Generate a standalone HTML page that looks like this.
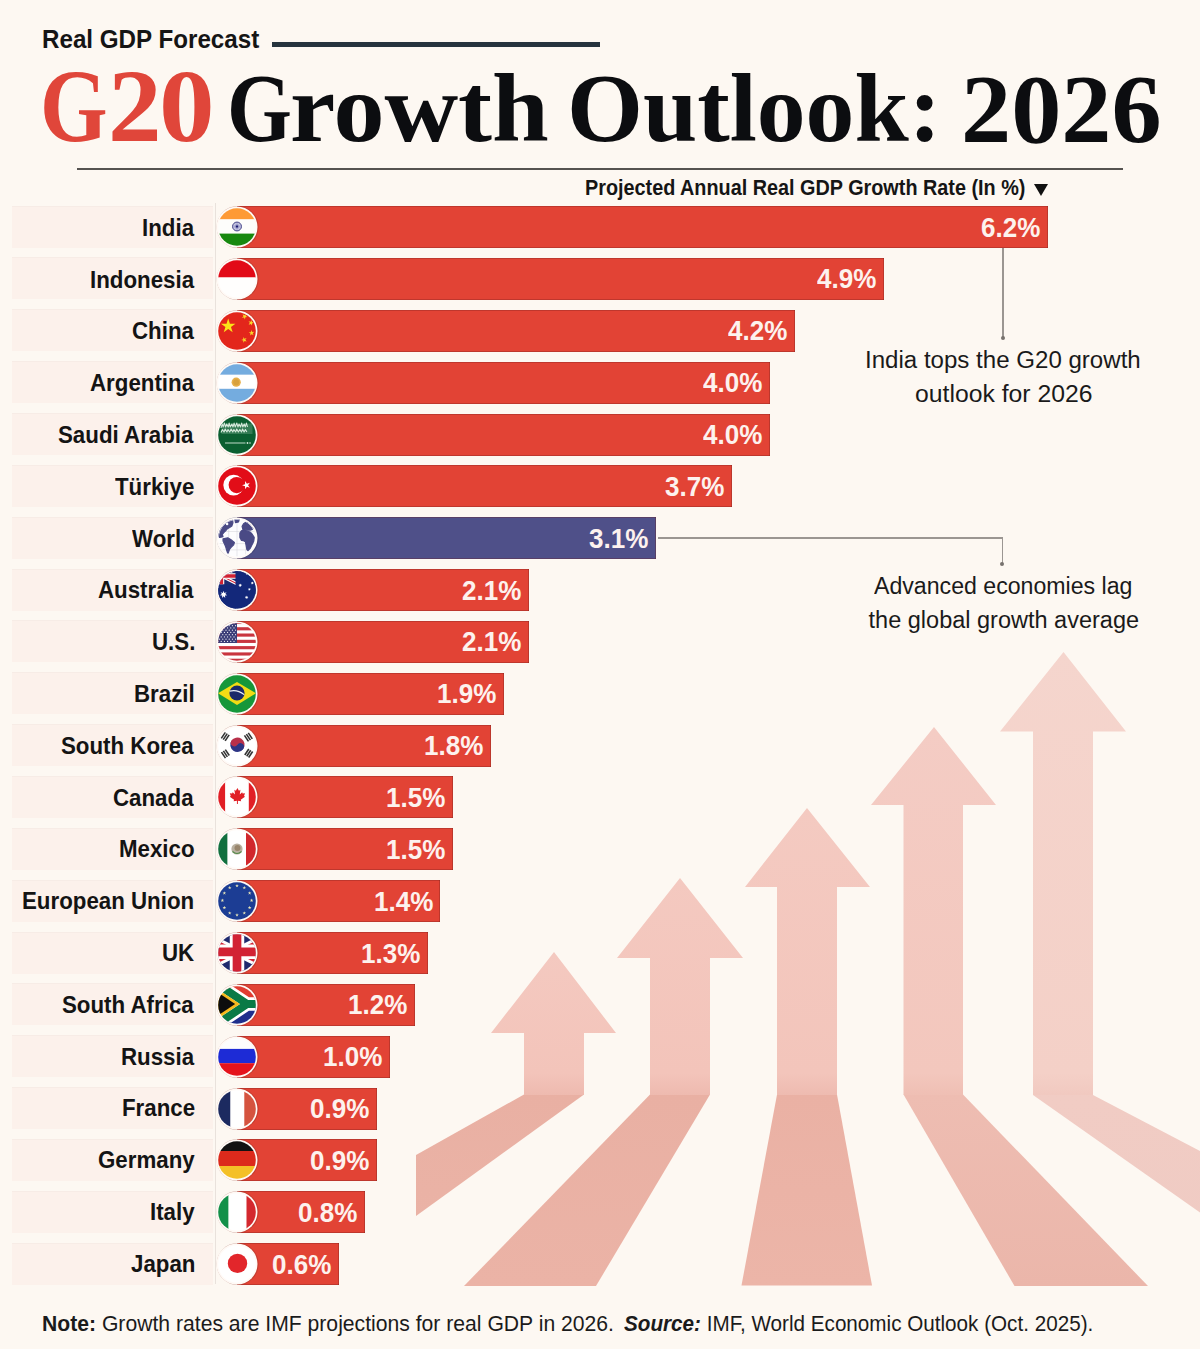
<!DOCTYPE html>
<html><head><meta charset="utf-8"><style>
*{margin:0;padding:0;box-sizing:border-box}
html,body{width:1200px;height:1349px;overflow:hidden;background:#fdf8f2}
body{position:relative;font-family:'Liberation Sans',Arial,sans-serif;color:#111}
.t{position:absolute;white-space:nowrap;line-height:1;transform-origin:0 0}
.arrows{position:absolute;left:0;top:0}
.kline{position:absolute;left:272px;top:41.5px;width:328px;height:5.5px;background:#26343e}
.hline{position:absolute;left:77px;top:168px;width:1046px;height:1.7px;background:#555350}
.tri{position:absolute;left:1034px;top:184px;width:0;height:0;border-left:7px solid transparent;border-right:7px solid transparent;border-top:12.3px solid #111}
.cell{position:absolute;left:12px;width:201px;height:42px;background:#fcf1eb;border-top:1px solid #f7ece6}
.vline{position:absolute;left:215px;top:203px;width:1.2px;height:1081px;background:#e9e2dc}
.bar{position:absolute;left:236.5px;height:42px;box-shadow:inset -1px 0 0 rgba(110,30,25,.32),inset 0 1px 0 rgba(110,30,25,.3),inset 0 -1px 0 rgba(110,30,25,.3)}
.flag{position:absolute;left:215.3px}
.lead{position:absolute;background:#9b9692}
.dot{position:absolute;width:4px;height:4px;background:#77726e;border-radius:50%}
</style></head><body>
<svg class="arrows" width="1200" height="1349" viewBox="0 0 1200 1349"><defs><linearGradient id="s0" gradientUnits="userSpaceOnUse" x1="0" y1="952" x2="0" y2="1095"><stop offset="0" stop-color="#f4c9c0"/><stop offset="0.846" stop-color="#f3c4ba"/><stop offset="1" stop-color="#eebaaf"/></linearGradient><linearGradient id="f0" gradientUnits="userSpaceOnUse" x1="0" y1="1095" x2="0" y2="1286"><stop offset="0" stop-color="#e9b0a3"/><stop offset="1" stop-color="#ebb4a7"/></linearGradient><linearGradient id="s1" gradientUnits="userSpaceOnUse" x1="0" y1="878" x2="0" y2="1095"><stop offset="0" stop-color="#f4c9c0"/><stop offset="0.899" stop-color="#f3c4ba"/><stop offset="1" stop-color="#eebaaf"/></linearGradient><linearGradient id="f1" gradientUnits="userSpaceOnUse" x1="0" y1="1095" x2="0" y2="1286"><stop offset="0" stop-color="#e9b0a3"/><stop offset="1" stop-color="#ebb3a6"/></linearGradient><linearGradient id="s2" gradientUnits="userSpaceOnUse" x1="0" y1="808" x2="0" y2="1095"><stop offset="0" stop-color="#f4cac1"/><stop offset="0.923" stop-color="#f3c5bb"/><stop offset="1" stop-color="#eebbb0"/></linearGradient><linearGradient id="f2" gradientUnits="userSpaceOnUse" x1="0" y1="1095" x2="0" y2="1286"><stop offset="0" stop-color="#eab1a4"/><stop offset="1" stop-color="#ecb5a8"/></linearGradient><linearGradient id="s3" gradientUnits="userSpaceOnUse" x1="0" y1="727" x2="0" y2="1095"><stop offset="0" stop-color="#f4ccc4"/><stop offset="0.940" stop-color="#f3c7bd"/><stop offset="1" stop-color="#efbfb4"/></linearGradient><linearGradient id="f3" gradientUnits="userSpaceOnUse" x1="0" y1="1095" x2="0" y2="1286"><stop offset="0" stop-color="#eebdb2"/><stop offset="1" stop-color="#ebb6aa"/></linearGradient><linearGradient id="s4" gradientUnits="userSpaceOnUse" x1="0" y1="652" x2="0" y2="1095"><stop offset="0" stop-color="#f5d5cd"/><stop offset="0.950" stop-color="#f4d0c7"/><stop offset="1" stop-color="#f1c9c0"/></linearGradient><linearGradient id="f4" gradientUnits="userSpaceOnUse" x1="0" y1="1095" x2="0" y2="1286"><stop offset="0" stop-color="#f1ccc4"/><stop offset="1" stop-color="#efcbc3"/></linearGradient></defs><polygon points="524,1094.5 584,1094.5 416,1216 416,1155" fill="url(#f0)"/><polygon points="554,952 616,1033 584,1033 584,1095 524,1095 524,1033 491,1033" fill="url(#s0)"/><polygon points="650,1094.5 710,1094.5 596,1286 464,1286" fill="url(#f1)"/><polygon points="680,878 743,958 710,958 710,1095 650,1095 650,958 617,958" fill="url(#s1)"/><polygon points="777,1094.5 837,1094.5 872,1285.5 741.5,1285.5" fill="url(#f2)"/><polygon points="807,808 870,887 837,887 837,1095 777,1095 777,887 745,887" fill="url(#s2)"/><polygon points="903.5,1094.5 963,1094.5 1148,1286 1014.5,1286" fill="url(#f3)"/><polygon points="934,727 996,805 963,805 963,1095 903.5,1095 903.5,805 871,805" fill="url(#s3)"/><polygon points="1033,1095 1093,1095 1200,1151 1200,1212.5" fill="url(#f4)"/><polygon points="1063.5,652 1126,731.5 1093,731.5 1093,1095 1033,1095 1033,731.5 1000,731.5" fill="url(#s4)"/></svg>
<div class="kline"></div>
<div class="hline"></div>
<div class="tri"></div>
<div class="vline"></div>
<div class="cell" style="top:205.60px"></div><div class="bar" style="top:206.10px;width:811.74px;background:#e24335"></div><div class="cell" style="top:257.45px"></div><div class="bar" style="top:257.95px;width:647.14px;background:#e24335"></div><div class="cell" style="top:309.30px"></div><div class="bar" style="top:309.80px;width:558.50px;background:#e24335"></div><div class="cell" style="top:361.15px"></div><div class="bar" style="top:361.65px;width:533.18px;background:#e24335"></div><div class="cell" style="top:413.00px"></div><div class="bar" style="top:413.50px;width:533.18px;background:#e24335"></div><div class="cell" style="top:464.85px"></div><div class="bar" style="top:465.35px;width:495.19px;background:#e24335"></div><div class="cell" style="top:516.70px"></div><div class="bar" style="top:517.20px;width:419.22px;background:#4f5089"></div><div class="cell" style="top:568.55px"></div><div class="bar" style="top:569.05px;width:292.60px;background:#e24335"></div><div class="cell" style="top:620.40px"></div><div class="bar" style="top:620.90px;width:292.60px;background:#e24335"></div><div class="cell" style="top:672.25px"></div><div class="bar" style="top:672.75px;width:267.28px;background:#e24335"></div><div class="cell" style="top:724.10px"></div><div class="bar" style="top:724.60px;width:254.62px;background:#e24335"></div><div class="cell" style="top:775.95px"></div><div class="bar" style="top:776.45px;width:216.63px;background:#e24335"></div><div class="cell" style="top:827.80px"></div><div class="bar" style="top:828.30px;width:216.63px;background:#e24335"></div><div class="cell" style="top:879.65px"></div><div class="bar" style="top:880.15px;width:203.97px;background:#e24335"></div><div class="cell" style="top:931.50px"></div><div class="bar" style="top:932.00px;width:191.31px;background:#e24335"></div><div class="cell" style="top:983.35px"></div><div class="bar" style="top:983.85px;width:178.64px;background:#e24335"></div><div class="cell" style="top:1035.20px"></div><div class="bar" style="top:1035.70px;width:153.32px;background:#e24335"></div><div class="cell" style="top:1087.05px"></div><div class="bar" style="top:1087.55px;width:140.66px;background:#e24335"></div><div class="cell" style="top:1138.90px"></div><div class="bar" style="top:1139.40px;width:140.66px;background:#e24335"></div><div class="cell" style="top:1190.75px"></div><div class="bar" style="top:1191.25px;width:128.00px;background:#e24335"></div><div class="cell" style="top:1242.60px"></div><div class="bar" style="top:1243.10px;width:102.67px;background:#e24335"></div><svg class="flag" style="top:206.10px" viewBox="-22 -21 44 42" width="44" height="42"><circle cx="0.6" r="21" fill="#8a2a20" opacity="0.35"/><circle r="20.5" fill="#fffaf6"/><defs><clipPath id="cin"><circle r="18.8"/></clipPath></defs><g clip-path="url(#cin)"><rect x="-22" y="-22" width="44" height="14.41" fill="#fe9a35"/><rect x="-22" y="-7.6" width="44" height="14.209999999999999" fill="#fdfdfb"/><rect x="-22" y="6.6" width="44" height="15.41" fill="#17880f"/><circle cx="0" cy="-0.5" r="4.4" fill="#fff" stroke="#1b1b6e" stroke-width="0.9"/><g transform="translate(0,-0.5)" stroke="#6a6ab0" stroke-width="0.45"><line x1="0" y1="0" x2="4.00" y2="0.00"/><line x1="0" y1="0" x2="3.86" y2="1.04"/><line x1="0" y1="0" x2="3.46" y2="2.00"/><line x1="0" y1="0" x2="2.83" y2="2.83"/><line x1="0" y1="0" x2="2.00" y2="3.46"/><line x1="0" y1="0" x2="1.04" y2="3.86"/><line x1="0" y1="0" x2="0.00" y2="4.00"/><line x1="0" y1="0" x2="-1.04" y2="3.86"/><line x1="0" y1="0" x2="-2.00" y2="3.46"/><line x1="0" y1="0" x2="-2.83" y2="2.83"/><line x1="0" y1="0" x2="-3.46" y2="2.00"/><line x1="0" y1="0" x2="-3.86" y2="1.04"/><line x1="0" y1="0" x2="-4.00" y2="0.00"/><line x1="0" y1="0" x2="-3.86" y2="-1.04"/><line x1="0" y1="0" x2="-3.46" y2="-2.00"/><line x1="0" y1="0" x2="-2.83" y2="-2.83"/><line x1="0" y1="0" x2="-2.00" y2="-3.46"/><line x1="0" y1="0" x2="-1.04" y2="-3.86"/><line x1="0" y1="0" x2="-0.00" y2="-4.00"/><line x1="0" y1="0" x2="1.04" y2="-3.86"/><line x1="0" y1="0" x2="2.00" y2="-3.46"/><line x1="0" y1="0" x2="2.83" y2="-2.83"/><line x1="0" y1="0" x2="3.46" y2="-2.00"/><line x1="0" y1="0" x2="3.86" y2="-1.04"/></g><circle cy="-0.5" r="1.1" fill="#1b1b6e"/></g></svg><svg class="flag" style="top:257.95px" viewBox="-22 -21 44 42" width="44" height="42"><circle cx="0.6" r="21" fill="#8a2a20" opacity="0.35"/><circle r="20.5" fill="#fffaf6"/><defs><clipPath id="cid"><circle r="18.8"/></clipPath></defs><g clip-path="url(#cid)"><rect x="-22" y="-22" width="44" height="20.51" fill="#e20a17"/><rect x="-22" y="-1.5" width="44" height="23.51" fill="#fffefd"/></g></svg><svg class="flag" style="top:309.80px" viewBox="-22 -21 44 42" width="44" height="42"><circle cx="0.6" r="21" fill="#8a2a20" opacity="0.35"/><circle r="20.5" fill="#fffaf6"/><defs><clipPath id="ccn"><circle r="18.8"/></clipPath></defs><g clip-path="url(#ccn)"><rect x="-22" y="-22" width="44" height="44" fill="#e3261b"/><polygon points="-8.80,-12.40 -7.09,-7.15 -1.57,-7.15 -6.04,-3.90 -4.33,1.35 -8.80,-1.90 -13.27,1.35 -11.56,-3.90 -16.03,-7.15 -10.51,-7.15" fill="#fbe418"/><polygon points="9.10,-17.10 8.65,-14.97 10.53,-13.88 8.37,-13.65 7.91,-11.52 7.03,-13.51 4.86,-13.28 6.48,-14.74 5.59,-16.73 7.48,-15.64" fill="#f7d62a"/><polygon points="14.78,-11.10 14.89,-8.92 17.00,-8.36 14.96,-7.58 15.08,-5.40 13.70,-7.09 11.67,-6.31 12.86,-8.14 11.48,-9.83 13.59,-9.27" fill="#f7d62a"/><polygon points="14.34,-0.99 15.19,1.02 17.36,0.83 15.72,2.26 16.57,4.26 14.70,3.14 13.05,4.57 13.55,2.45 11.68,1.33 13.85,1.14" fill="#f7d62a"/><polygon points="6.17,5.98 7.52,7.70 9.56,6.95 8.35,8.76 9.69,10.48 7.59,9.88 6.37,11.68 6.30,9.51 4.20,8.90 6.25,8.16" fill="#f7d62a"/></g></svg><svg class="flag" style="top:361.65px" viewBox="-22 -21 44 42" width="44" height="42"><circle cx="0.6" r="21" fill="#8a2a20" opacity="0.35"/><circle r="20.5" fill="#fffaf6"/><defs><clipPath id="car"><circle r="18.8"/></clipPath></defs><g clip-path="url(#car)"><rect x="-22" y="-22" width="44" height="13.81" fill="#74acdf"/><rect x="-22" y="-8.2" width="44" height="14.01" fill="#ffffff"/><rect x="-22" y="5.8" width="44" height="16.21" fill="#74acdf"/><circle cx="-0.8" cy="-0.8" r="4.6" fill="#e8b04a"/><circle cx="-0.8" cy="-0.8" r="3" fill="#d9a13c"/></g></svg><svg class="flag" style="top:413.50px" viewBox="-22 -21 44 42" width="44" height="42"><circle cx="0.6" r="21" fill="#8a2a20" opacity="0.35"/><circle r="20.5" fill="#fffaf6"/><defs><clipPath id="csa"><circle r="18.8"/></clipPath></defs><g clip-path="url(#csa)"><rect x="-22" y="-22" width="44" height="44" fill="#0b5f31"/><rect x="-15.5" y="-11.5" width="31" height="10.5" fill="#cfe3d5" opacity="0.22"/><g fill="none" stroke="#d4e8da" stroke-width="1.0" stroke-linejoin="round" transform="translate(0.5,0) scale(1.1,1)"><path d="M-15,-7 l1,-4 l1,3 l1,-4 l1.2,4 l1,-3 l1.4,3 l0.8,-4 l1,4 l1.5,-3 l1,3 l1,-4 l1,4 l1.5,-4 l1,4 l1,-3 l1.4,3 l1,-4 l1,4 l1.3,-3 l1,3 l1,-4 l1,4"/><path d="M-15,-2.5 l1.3,-3 l1.5,2.5 l1,-3 l1.6,3 l1,-2.5 l1.5,2.5 l1.3,-3 l1.5,3 l1,-2.5 l1.6,2.5 l1,-3 l1.5,3 l1.3,-2.5 l1.5,2.5 l1,-3 l1.4,3 l1.2,-2.5 l1.3,2.5"/></g><path d="M-12,8 H8.5" stroke="#d4e8da" stroke-width="0.9"/><circle cx="10.5" cy="8" r="0.9" fill="#d4e8da"/><circle cx="13" cy="8" r="0.8" fill="#d4e8da"/></g></svg><svg class="flag" style="top:465.35px" viewBox="-22 -21 44 42" width="44" height="42"><circle cx="0.6" r="21" fill="#8a2a20" opacity="0.35"/><circle r="20.5" fill="#fffaf6"/><defs><clipPath id="ctr"><circle r="18.8"/></clipPath></defs><g clip-path="url(#ctr)"><rect x="-22" y="-22" width="44" height="44" fill="#e20d18"/><circle cx="-3.4" cy="-0.9" r="10.3" fill="#fff"/><circle cx="-0.3" cy="-0.9" r="8.1" fill="#e20d18"/><polygon points="5.10,-0.80 8.07,-1.77 8.07,-4.89 9.91,-2.36 12.88,-3.33 11.04,-0.80 12.88,1.73 9.91,0.76 8.07,3.29 8.07,0.17" fill="#fff"/></g></svg><svg class="flag" style="top:517.20px" viewBox="-22 -21 44 42" width="44" height="42"><circle cx="0.6" r="21" fill="#2a2a55" opacity="0.35"/><circle r="20.5" fill="#fffaf6"/><defs><clipPath id="cworld"><circle r="18.8"/></clipPath></defs><g clip-path="url(#cworld)"><rect x="-22" y="-22" width="44" height="44" fill="#fdfdfe"/><g transform="translate(0.7,-0.3)"><g stroke="#c8c8d0" stroke-width="0.4" fill="none"><path d="M-20,-6.2H20M-20,5.9H20M-20,12.2H20M-0.7,-20V20M-9,-20V20M8,-20V20"/></g><g fill="#4a4a85" stroke="#4a4a85" stroke-width="1.2" stroke-linejoin="round"><polygon points="-19.43,-1.76 -19.07,-5.80 -17.23,-9.47 -14.67,-12.77 -11.73,-16.07 -8.07,-17.90 -5.13,-17.90 -4.76,-14.97 -5.87,-11.67 -8.07,-10.20 -10.27,-9.10 -12.10,-6.90 -13.93,-5.06 -15.40,-3.23 -14.67,-1.03 -16.50,-0.66 -18.33,-0.30"/><polygon points="-2.93,-18.63 1.84,-19.00 0.74,-15.70 -2.20,-14.97"/><polygon points="-14.67,1.17 -9.90,0.07 -5.87,2.64 -3.30,4.84 -4.03,7.04 -6.60,9.60 -8.07,11.44 -9.17,14.37 -9.90,15.84 -11.00,12.54 -12.10,8.87 -13.57,5.57 -14.67,3.37"/><polygon points="2.20,-4.70 3.67,-6.90 5.87,-7.63 9.17,-6.90 12.84,-5.43 14.67,-3.23 16.50,-0.30 16.14,3.37 13.94,7.77 12.47,10.70 10.27,12.90 9.17,11.80 8.44,7.77 7.70,4.10 5.87,3.00 3.67,2.64 2.20,-0.30"/><polygon points="4.40,-11.30 5.87,-13.87 8.07,-15.33 10.27,-15.70 12.84,-16.07 15.04,-13.13 16.50,-10.20 14.67,-8.37 12.47,-7.63 10.27,-7.63 7.34,-8.00 5.14,-8.37"/></g><circle cx="-10.6" cy="-13.7" r="1.3" fill="#fdfdfe"/></g><circle r="18.6" fill="none" stroke="#fff" stroke-width="0.8"/></g></svg><svg class="flag" style="top:569.05px" viewBox="-22 -21 44 42" width="44" height="42"><circle cx="0.6" r="21" fill="#8a2a20" opacity="0.35"/><circle r="20.5" fill="#fffaf6"/><defs><clipPath id="cau"><circle r="18.8"/></clipPath></defs><g clip-path="url(#cau)"><rect x="-22" y="-22" width="44" height="44" fill="#13287a"/><g transform="translate(-15.5,-14) scale(0.55)"><rect x="-30" y="-15" width="60" height="30" fill="#1f2a6e"/><path d="M-30,-15 L30,15 M30,-15 L-30,15" stroke="#fff" stroke-width="6"/><path d="M-30,-15 L30,15 M30,-15 L-30,15" stroke="#d22234" stroke-width="2"/><path d="M0,-15 V15 M-30,0 H30" stroke="#fff" stroke-width="10"/><path d="M0,-15 V15 M-30,0 H30" stroke="#d22234" stroke-width="6"/></g><rect x="-1.5" y="-26" width="30" height="30" fill="#13287a"/><rect x="-32" y="-2" width="31" height="30" fill="#13287a"/><polygon points="-13.40,0.70 -12.66,2.96 -10.43,2.13 -11.73,4.12 -9.70,5.35 -12.06,5.57 -11.75,7.92 -13.40,6.21 -15.05,7.92 -14.74,5.57 -17.10,5.35 -15.07,4.12 -16.37,2.13 -14.14,2.96" fill="#fff"/><polygon points="3.20,-6.60 3.57,-5.47 4.69,-5.88 4.03,-4.89 5.05,-4.28 3.87,-4.17 4.02,-2.99 3.20,-3.85 2.38,-2.99 2.53,-4.17 1.35,-4.28 2.37,-4.89 1.71,-5.88 2.83,-5.47" fill="#fff"/><polygon points="12.40,-2.30 12.71,-1.35 13.65,-1.70 13.10,-0.86 13.96,-0.34 12.96,-0.25 13.09,0.74 12.40,0.02 11.71,0.74 11.84,-0.25 10.84,-0.34 11.70,-0.86 11.15,-1.70 12.09,-1.35" fill="#fff"/><polygon points="15.30,-8.60 15.61,-7.65 16.55,-8.00 16.00,-7.16 16.86,-6.64 15.86,-6.55 15.99,-5.56 15.30,-6.28 14.61,-5.56 14.74,-6.55 13.74,-6.64 14.60,-7.16 14.05,-8.00 14.99,-7.65" fill="#fff"/><polygon points="9.60,5.50 9.97,6.63 11.09,6.22 10.43,7.21 11.45,7.82 10.27,7.93 10.42,9.11 9.60,8.26 8.78,9.11 8.93,7.93 7.75,7.82 8.77,7.21 8.11,6.22 9.23,6.63" fill="#fff"/><polygon points="10.10,-17.60 10.37,-16.77 11.19,-17.07 10.71,-16.34 11.46,-15.89 10.59,-15.81 10.71,-14.94 10.10,-15.57 9.49,-14.94 9.61,-15.81 8.74,-15.89 9.49,-16.34 9.01,-17.07 9.83,-16.77" fill="#fff"/></g></svg><svg class="flag" style="top:620.90px" viewBox="-22 -21 44 42" width="44" height="42"><circle cx="0.6" r="21" fill="#8a2a20" opacity="0.35"/><circle r="20.5" fill="#fffaf6"/><defs><clipPath id="cus"><circle r="18.8"/></clipPath></defs><g clip-path="url(#cus)"><rect x="-22" y="-22" width="44" height="44" fill="#fff"/><rect x="-22" y="-21.1" width="44" height="3.15" fill="#c9353f"/><rect x="-22" y="-14.8" width="44" height="3.15" fill="#c9353f"/><rect x="-22" y="-8.500000000000002" width="44" height="3.15" fill="#c9353f"/><rect x="-22" y="-2.200000000000003" width="44" height="3.15" fill="#c9353f"/><rect x="-22" y="4.099999999999998" width="44" height="3.15" fill="#c9353f"/><rect x="-22" y="10.399999999999999" width="44" height="3.15" fill="#c9353f"/><rect x="-22" y="16.699999999999996" width="44" height="3.15" fill="#c9353f"/><rect x="-22" y="-22" width="22" height="23" fill="#3b3e78"/><circle cx="-19.00" cy="-18.60" r="0.55" fill="#fff"/><circle cx="-15.80" cy="-18.60" r="0.55" fill="#fff"/><circle cx="-12.60" cy="-18.60" r="0.55" fill="#fff"/><circle cx="-9.40" cy="-18.60" r="0.55" fill="#fff"/><circle cx="-6.20" cy="-18.60" r="0.55" fill="#fff"/><circle cx="-3.00" cy="-18.60" r="0.55" fill="#fff"/><circle cx="-17.40" cy="-16.35" r="0.55" fill="#fff"/><circle cx="-14.20" cy="-16.35" r="0.55" fill="#fff"/><circle cx="-11.00" cy="-16.35" r="0.55" fill="#fff"/><circle cx="-7.80" cy="-16.35" r="0.55" fill="#fff"/><circle cx="-4.60" cy="-16.35" r="0.55" fill="#fff"/><circle cx="-1.40" cy="-16.35" r="0.55" fill="#fff"/><circle cx="-19.00" cy="-14.10" r="0.55" fill="#fff"/><circle cx="-15.80" cy="-14.10" r="0.55" fill="#fff"/><circle cx="-12.60" cy="-14.10" r="0.55" fill="#fff"/><circle cx="-9.40" cy="-14.10" r="0.55" fill="#fff"/><circle cx="-6.20" cy="-14.10" r="0.55" fill="#fff"/><circle cx="-3.00" cy="-14.10" r="0.55" fill="#fff"/><circle cx="-17.40" cy="-11.85" r="0.55" fill="#fff"/><circle cx="-14.20" cy="-11.85" r="0.55" fill="#fff"/><circle cx="-11.00" cy="-11.85" r="0.55" fill="#fff"/><circle cx="-7.80" cy="-11.85" r="0.55" fill="#fff"/><circle cx="-4.60" cy="-11.85" r="0.55" fill="#fff"/><circle cx="-1.40" cy="-11.85" r="0.55" fill="#fff"/><circle cx="-19.00" cy="-9.60" r="0.55" fill="#fff"/><circle cx="-15.80" cy="-9.60" r="0.55" fill="#fff"/><circle cx="-12.60" cy="-9.60" r="0.55" fill="#fff"/><circle cx="-9.40" cy="-9.60" r="0.55" fill="#fff"/><circle cx="-6.20" cy="-9.60" r="0.55" fill="#fff"/><circle cx="-3.00" cy="-9.60" r="0.55" fill="#fff"/><circle cx="-17.40" cy="-7.35" r="0.55" fill="#fff"/><circle cx="-14.20" cy="-7.35" r="0.55" fill="#fff"/><circle cx="-11.00" cy="-7.35" r="0.55" fill="#fff"/><circle cx="-7.80" cy="-7.35" r="0.55" fill="#fff"/><circle cx="-4.60" cy="-7.35" r="0.55" fill="#fff"/><circle cx="-1.40" cy="-7.35" r="0.55" fill="#fff"/><circle cx="-19.00" cy="-5.10" r="0.55" fill="#fff"/><circle cx="-15.80" cy="-5.10" r="0.55" fill="#fff"/><circle cx="-12.60" cy="-5.10" r="0.55" fill="#fff"/><circle cx="-9.40" cy="-5.10" r="0.55" fill="#fff"/><circle cx="-6.20" cy="-5.10" r="0.55" fill="#fff"/><circle cx="-3.00" cy="-5.10" r="0.55" fill="#fff"/><circle cx="-17.40" cy="-2.85" r="0.55" fill="#fff"/><circle cx="-14.20" cy="-2.85" r="0.55" fill="#fff"/><circle cx="-11.00" cy="-2.85" r="0.55" fill="#fff"/><circle cx="-7.80" cy="-2.85" r="0.55" fill="#fff"/><circle cx="-4.60" cy="-2.85" r="0.55" fill="#fff"/><circle cx="-1.40" cy="-2.85" r="0.55" fill="#fff"/><circle cx="-19.00" cy="-0.60" r="0.55" fill="#fff"/><circle cx="-15.80" cy="-0.60" r="0.55" fill="#fff"/><circle cx="-12.60" cy="-0.60" r="0.55" fill="#fff"/><circle cx="-9.40" cy="-0.60" r="0.55" fill="#fff"/><circle cx="-6.20" cy="-0.60" r="0.55" fill="#fff"/><circle cx="-3.00" cy="-0.60" r="0.55" fill="#fff"/></g></svg><svg class="flag" style="top:672.75px" viewBox="-22 -21 44 42" width="44" height="42"><circle cx="0.6" r="21" fill="#8a2a20" opacity="0.35"/><circle r="20.5" fill="#fffaf6"/><defs><clipPath id="cbr"><circle r="18.8"/></clipPath></defs><g clip-path="url(#cbr)"><rect x="-22" y="-22" width="44" height="44" fill="#16973a"/><polygon points="0,-12 19,-0.8 0,11 -19,-0.8" fill="#f2dc14"/><circle cx="0" cy="-1" r="7.6" fill="#1a2a6a"/><path d="M-7.4,-2.8 Q0,-5 7.2,0.6" stroke="#e8eef5" stroke-width="1.2" fill="none"/></g></svg><svg class="flag" style="top:724.60px" viewBox="-22 -21 44 42" width="44" height="42"><circle cx="0.6" r="21" fill="#8a2a20" opacity="0.35"/><circle r="20.5" fill="#fffaf6"/><defs><clipPath id="ckr"><circle r="18.8"/></clipPath></defs><g clip-path="url(#ckr)"><rect x="-22" y="-22" width="44" height="44" fill="#fff"/><g transform="translate(0.4,-1.3) rotate(33.7)"><path d="M-7.2,0 A7.2,7.2 0 0 1 7.2,0 Z" fill="#b8304a"/><path d="M-7.2,0 A7.2,7.2 0 0 0 7.2,0 Z" fill="#2d3585"/><circle cx="-3.6" cy="0" r="3.6" fill="#b8304a"/><circle cx="3.6" cy="0" r="3.6" fill="#2d3585"/></g><g transform="translate(-11.7,-9.3) rotate(-56.3)"><rect x="-3.6" y="-3.20" width="7.2" height="1.6" fill="#333"/><rect x="-3.6" y="-0.90" width="7.2" height="1.6" fill="#333"/><rect x="-3.6" y="1.40" width="7.2" height="1.6" fill="#333"/></g><g transform="translate(11.8,7.3) rotate(-56.3)"><rect x="-3.6" y="-3.20" width="7.2" height="1.6" fill="#333"/><rect x="-3.6" y="-0.90" width="7.2" height="1.6" fill="#333"/><rect x="-3.6" y="1.40" width="7.2" height="1.6" fill="#333"/></g><g transform="translate(11.3,-8.8) rotate(56.3)"><rect x="-3.6" y="-3.20" width="7.2" height="1.6" fill="#333"/><rect x="-3.6" y="-0.90" width="7.2" height="1.6" fill="#333"/><rect x="-3.6" y="1.40" width="7.2" height="1.6" fill="#333"/></g><g transform="translate(-11.7,7.9) rotate(56.3)"><rect x="-3.6" y="-3.20" width="7.2" height="1.6" fill="#333"/><rect x="-3.6" y="-0.90" width="7.2" height="1.6" fill="#333"/><rect x="-3.6" y="1.40" width="7.2" height="1.6" fill="#333"/></g></g></svg><svg class="flag" style="top:776.45px" viewBox="-22 -21 44 42" width="44" height="42"><circle cx="0.6" r="21" fill="#8a2a20" opacity="0.35"/><circle r="20.5" fill="#fffaf6"/><defs><clipPath id="cca"><circle r="18.8"/></clipPath></defs><g clip-path="url(#cca)"><rect x="-22" y="-22" width="10.31" height="44" fill="#e11f26"/><rect x="-11.7" y="-22" width="23.51" height="44" fill="#ffffff"/><rect x="11.8" y="-22" width="10.209999999999999" height="44" fill="#e11f26"/><g transform="translate(0.4,-1.5) scale(0.95)"><path d="M0,-8 L1.6,-5 L3.2,-6 L2.5,-1 L5,-3.5 L5.5,-2 L8,-2.5 L7,0.5 L8,1.3 L3.5,4.5 L4,6 L0.5,5.5 L0.5,9 L-0.5,9 L-0.5,5.5 L-4,6 L-3.5,4.5 L-8,1.3 L-7,0.5 L-8,-2.5 L-5.5,-2 L-5,-3.5 L-2.5,-1 L-3.2,-6 L-1.6,-5 Z" fill="#e11f26"/></g></g></svg><svg class="flag" style="top:828.30px" viewBox="-22 -21 44 42" width="44" height="42"><circle cx="0.6" r="21" fill="#8a2a20" opacity="0.35"/><circle r="20.5" fill="#fffaf6"/><defs><clipPath id="cmx"><circle r="18.8"/></clipPath></defs><g clip-path="url(#cmx)"><rect x="-22" y="-22" width="12.61" height="44" fill="#11703f"/><rect x="-9.4" y="-22" width="18.41" height="44" fill="#ffffff"/><rect x="9" y="-22" width="13.01" height="44" fill="#d1272c"/><circle cx="0" cy="0" r="5.6" fill="#a89c88" opacity="0.8"/><circle cx="0.5" cy="-1" r="3" fill="#8a7455" opacity="0.7"/><path d="M-4.5,2.5 Q0,6.5 4.5,2.5" stroke="#4f8a47" stroke-width="1.1" fill="none"/></g></svg><svg class="flag" style="top:880.15px" viewBox="-22 -21 44 42" width="44" height="42"><circle cx="0.6" r="21" fill="#8a2a20" opacity="0.35"/><circle r="20.5" fill="#fffaf6"/><defs><clipPath id="ceu"><circle r="18.8"/></clipPath></defs><g clip-path="url(#ceu)"><rect x="-22" y="-22" width="44" height="44" fill="#1c3d94"/><polygon points="14.60,-2.50 15.03,-1.19 16.41,-1.19 15.29,-0.38 15.72,0.94 14.60,0.13 13.48,0.94 13.91,-0.38 12.79,-1.19 14.17,-1.19" fill="#e9e6b8"/><polygon points="12.64,4.80 13.07,6.11 14.45,6.11 13.33,6.92 13.76,8.24 12.64,7.43 11.53,8.24 11.95,6.92 10.84,6.11 12.22,6.11" fill="#e9e6b8"/><polygon points="7.30,10.14 7.73,11.46 9.11,11.46 7.99,12.27 8.42,13.58 7.30,12.77 6.18,13.58 6.61,12.27 5.49,11.46 6.87,11.46" fill="#e9e6b8"/><polygon points="0.00,12.10 0.43,13.41 1.81,13.41 0.69,14.22 1.12,15.54 0.00,14.73 -1.12,15.54 -0.69,14.22 -1.81,13.41 -0.43,13.41" fill="#e9e6b8"/><polygon points="-7.30,10.14 -6.87,11.46 -5.49,11.46 -6.61,12.27 -6.18,13.58 -7.30,12.77 -8.42,13.58 -7.99,12.27 -9.11,11.46 -7.73,11.46" fill="#e9e6b8"/><polygon points="-12.64,4.80 -12.22,6.11 -10.84,6.11 -11.95,6.92 -11.53,8.24 -12.64,7.43 -13.76,8.24 -13.33,6.92 -14.45,6.11 -13.07,6.11" fill="#e9e6b8"/><polygon points="-14.60,-2.50 -14.17,-1.19 -12.79,-1.19 -13.91,-0.38 -13.48,0.94 -14.60,0.13 -15.72,0.94 -15.29,-0.38 -16.41,-1.19 -15.03,-1.19" fill="#e9e6b8"/><polygon points="-12.64,-9.80 -12.22,-8.49 -10.84,-8.49 -11.95,-7.68 -11.53,-6.36 -12.64,-7.17 -13.76,-6.36 -13.33,-7.68 -14.45,-8.49 -13.07,-8.49" fill="#e9e6b8"/><polygon points="-7.30,-15.14 -6.87,-13.83 -5.49,-13.83 -6.61,-13.02 -6.18,-11.71 -7.30,-12.52 -8.42,-11.71 -7.99,-13.02 -9.11,-13.83 -7.73,-13.83" fill="#e9e6b8"/><polygon points="-0.00,-17.10 0.43,-15.79 1.81,-15.79 0.69,-14.98 1.12,-13.66 -0.00,-14.47 -1.12,-13.66 -0.69,-14.98 -1.81,-15.79 -0.43,-15.79" fill="#e9e6b8"/><polygon points="7.30,-15.14 7.73,-13.83 9.11,-13.83 7.99,-13.02 8.42,-11.71 7.30,-12.52 6.18,-11.71 6.61,-13.02 5.49,-13.83 6.87,-13.83" fill="#e9e6b8"/><polygon points="12.64,-9.80 13.07,-8.49 14.45,-8.49 13.33,-7.68 13.76,-6.36 12.64,-7.17 11.53,-6.36 11.95,-7.68 10.84,-8.49 12.22,-8.49" fill="#e9e6b8"/></g></svg><svg class="flag" style="top:932.00px" viewBox="-22 -21 44 42" width="44" height="42"><circle cx="0.6" r="21" fill="#8a2a20" opacity="0.35"/><circle r="20.5" fill="#fffaf6"/><defs><clipPath id="cuk"><circle r="18.8"/></clipPath></defs><g clip-path="url(#cuk)"><g transform="translate(0,-1.2) scale(1.45)"><rect x="-30" y="-15" width="60" height="30" fill="#1f2a6e"/><path d="M-30,-15 L30,15 M30,-15 L-30,15" stroke="#fff" stroke-width="6"/><path d="M-30,-15 L30,15 M30,-15 L-30,15" stroke="#d22234" stroke-width="2"/><path d="M0,-15 V15 M-30,0 H30" stroke="#fff" stroke-width="10"/><path d="M0,-15 V15 M-30,0 H30" stroke="#d22234" stroke-width="6"/></g></g></svg><svg class="flag" style="top:983.85px" viewBox="-22 -21 44 42" width="44" height="42"><circle cx="0.6" r="21" fill="#8a2a20" opacity="0.35"/><circle r="20.5" fill="#fffaf6"/><defs><clipPath id="cza"><circle r="18.8"/></clipPath></defs><g clip-path="url(#cza)"><g transform="translate(-19.9,-21) scale(6.67)"><rect x="0" y="0" width="9" height="6" fill="#fff"/><path d="M0,0H9V3H4.5z" fill="#e03c31"/><path d="M0,6H9V3H4.5z" fill="#1f2f8c"/><path d="M0,0 4.5,3H9M0,6 4.5,3" stroke="#fff" stroke-width="2" fill="none"/><path d="M0,0 4.5,3H9M0,6 4.5,3" stroke="#0a7a46" stroke-width="1.2" fill="none"/><path d="M0,0.721 3.42,3 0,5.279z" fill="#f6b81c"/><path d="M0,1.202 2.7,3 0,4.798z" fill="#0d0d0d"/></g></g></svg><svg class="flag" style="top:1035.70px" viewBox="-22 -21 44 42" width="44" height="42"><circle cx="0.6" r="21" fill="#8a2a20" opacity="0.35"/><circle r="20.5" fill="#fffaf6"/><defs><clipPath id="cru"><circle r="18.8"/></clipPath></defs><g clip-path="url(#cru)"><rect x="-22" y="-22" width="44" height="13.91" fill="#fdfdfd"/><rect x="-22" y="-8.1" width="44" height="14.31" fill="#1d2bd6"/><rect x="-22" y="6.2" width="44" height="15.81" fill="#e5131c"/></g></svg><svg class="flag" style="top:1087.55px" viewBox="-22 -21 44 42" width="44" height="42"><circle cx="0.6" r="21" fill="#8a2a20" opacity="0.35"/><circle r="20.5" fill="#fffaf6"/><defs><clipPath id="cfr"><circle r="18.8"/></clipPath></defs><g clip-path="url(#cfr)"><rect x="-22" y="-22" width="15.51" height="44" fill="#1c2a60"/><rect x="-6.5" y="-22" width="13.81" height="44" fill="#ffffff"/><rect x="7.3" y="-22" width="14.709999999999999" height="44" fill="#d5533f"/></g></svg><svg class="flag" style="top:1139.40px" viewBox="-22 -21 44 42" width="44" height="42"><circle cx="0.6" r="21" fill="#8a2a20" opacity="0.35"/><circle r="20.5" fill="#fffaf6"/><defs><clipPath id="cde"><circle r="18.8"/></clipPath></defs><g clip-path="url(#cde)"><rect x="-22" y="-22" width="44" height="13.01" fill="#121212"/><rect x="-22" y="-9" width="44" height="15.01" fill="#dc2a1c"/><rect x="-22" y="6" width="44" height="16.01" fill="#f4c027"/></g></svg><svg class="flag" style="top:1191.25px" viewBox="-22 -21 44 42" width="44" height="42"><circle cx="0.6" r="21" fill="#8a2a20" opacity="0.35"/><circle r="20.5" fill="#fffaf6"/><defs><clipPath id="cit"><circle r="18.8"/></clipPath></defs><g clip-path="url(#cit)"><rect x="-22" y="-22" width="13.61" height="44" fill="#139049"/><rect x="-8.4" y="-22" width="17.91" height="44" fill="#ffffff"/><rect x="9.5" y="-22" width="12.51" height="44" fill="#d4282e"/></g></svg><svg class="flag" style="top:1243.10px" viewBox="-22 -21 44 42" width="44" height="42"><circle cx="0.6" r="21" fill="#8a2a20" opacity="0.35"/><circle r="20.5" fill="#fffaf6"/><defs><clipPath id="cjp"><circle r="18.8"/></clipPath></defs><g clip-path="url(#cjp)"><rect x="-22" y="-22" width="44" height="44" fill="#fff"/><circle cx="0.5" cy="-0.6" r="9.7" fill="#e2262b"/></g></svg>
<div class="lead" style="left:1002.2px;top:248.3px;width:1.6px;height:88.5px"></div>
<div class="dot" style="left:1000.8px;top:335.5px"></div>
<div class="lead" style="left:658px;top:537.2px;width:345px;height:1.6px"></div>
<div class="lead" style="left:1001.6px;top:537.2px;width:1.6px;height:26px"></div>
<div class="dot" style="left:1000.2px;top:561.5px"></div>
<div class="t" style="left:41.95px;top:26.50px;font-weight:bold;font-size:25.5px;font-family:'Liberation Sans',Arial,sans-serif;color:#151515;transform:scaleX(0.9480);">Real GDP Forecast</div><div class="t" style="left:39.98px;top:55.30px;font-weight:bold;font-size:103px;font-family:'Liberation Serif',serif;color:#e0463a;transform:scaleX(0.8438);">G</div><div class="t" style="left:108.34px;top:55.30px;font-weight:bold;font-size:103px;font-family:'Liberation Serif',serif;color:#e0463a;transform:scaleX(1.0409);">2</div><div class="t" style="left:158.98px;top:55.30px;font-weight:bold;font-size:103px;font-family:'Liberation Serif',serif;color:#e0463a;transform:scaleX(1.0795);">0</div><div class="t" style="left:226.59px;top:59.00px;font-weight:bold;font-size:98px;font-family:'Liberation Serif',serif;color:#0c0d10;transform:scaleX(0.8514);">G</div><div class="t" style="left:289.92px;top:59.00px;font-weight:bold;font-size:98px;font-family:'Liberation Serif',serif;color:#0c0d10;transform:scaleX(1.0407);">rowth</div><div class="t" style="left:567.02px;top:59.00px;font-weight:bold;font-size:98px;font-family:'Liberation Serif',serif;color:#0c0d10;transform:scaleX(0.9959);">Outlook:</div><div class="t" style="left:960.51px;top:59.50px;font-weight:bold;font-size:98px;font-family:'Liberation Serif',serif;color:#0c0d10;transform:scaleX(1.0232);">2026</div><div class="t" style="left:584.60px;top:177.30px;font-weight:bold;font-size:22px;font-family:'Liberation Sans',Arial,sans-serif;color:#151515;transform:scaleX(0.9006);">Projected Annual Real GDP Growth Rate (In %)</div><div class="t" style="left:141.52px;top:215.70px;font-weight:bold;font-size:24.5px;font-family:'Liberation Sans',Arial,sans-serif;color:#141414;transform:scaleX(0.9100);">India</div><div class="t" style="left:981.42px;top:213.60px;font-weight:bold;font-size:28px;font-family:'Liberation Sans',Arial,sans-serif;color:#fdf2ee;transform:scaleX(0.9300);">6.2%</div><div class="t" style="left:89.65px;top:267.50px;font-weight:bold;font-size:24.5px;font-family:'Liberation Sans',Arial,sans-serif;color:#141414;transform:scaleX(0.9100);">Indonesia</div><div class="t" style="left:816.82px;top:265.45px;font-weight:bold;font-size:28px;font-family:'Liberation Sans',Arial,sans-serif;color:#fdf2ee;transform:scaleX(0.9300);">4.9%</div><div class="t" style="left:131.51px;top:319.30px;font-weight:bold;font-size:24.5px;font-family:'Liberation Sans',Arial,sans-serif;color:#141414;transform:scaleX(0.9100);">China</div><div class="t" style="left:728.18px;top:317.30px;font-weight:bold;font-size:28px;font-family:'Liberation Sans',Arial,sans-serif;color:#fdf2ee;transform:scaleX(0.9300);">4.2%</div><div class="t" style="left:89.65px;top:371.10px;font-weight:bold;font-size:24.5px;font-family:'Liberation Sans',Arial,sans-serif;color:#141414;transform:scaleX(0.9100);">Argentina</div><div class="t" style="left:702.86px;top:369.15px;font-weight:bold;font-size:28px;font-family:'Liberation Sans',Arial,sans-serif;color:#fdf2ee;transform:scaleX(0.9300);">4.0%</div><div class="t" style="left:57.80px;top:422.90px;font-weight:bold;font-size:24.5px;font-family:'Liberation Sans',Arial,sans-serif;color:#141414;transform:scaleX(0.9100);">Saudi Arabia</div><div class="t" style="left:702.86px;top:421.00px;font-weight:bold;font-size:28px;font-family:'Liberation Sans',Arial,sans-serif;color:#fdf2ee;transform:scaleX(0.9300);">4.0%</div><div class="t" style="left:115.13px;top:474.70px;font-weight:bold;font-size:24.5px;font-family:'Liberation Sans',Arial,sans-serif;color:#141414;transform:scaleX(0.9100);">Türkiye</div><div class="t" style="left:664.87px;top:472.85px;font-weight:bold;font-size:28px;font-family:'Liberation Sans',Arial,sans-serif;color:#fdf2ee;transform:scaleX(0.9300);">3.7%</div><div class="t" style="left:132.42px;top:526.50px;font-weight:bold;font-size:24.5px;font-family:'Liberation Sans',Arial,sans-serif;color:#141414;transform:scaleX(0.9100);">World</div><div class="t" style="left:588.90px;top:524.70px;font-weight:bold;font-size:28px;font-family:'Liberation Sans',Arial,sans-serif;color:#fdf2ee;transform:scaleX(0.9300);">3.1%</div><div class="t" style="left:97.84px;top:578.30px;font-weight:bold;font-size:24.5px;font-family:'Liberation Sans',Arial,sans-serif;color:#141414;transform:scaleX(0.9100);">Australia</div><div class="t" style="left:462.28px;top:576.55px;font-weight:bold;font-size:28px;font-family:'Liberation Sans',Arial,sans-serif;color:#fdf2ee;transform:scaleX(0.9300);">2.1%</div><div class="t" style="left:151.53px;top:630.10px;font-weight:bold;font-size:24.5px;font-family:'Liberation Sans',Arial,sans-serif;color:#141414;transform:scaleX(0.9100);">U.S.</div><div class="t" style="left:462.28px;top:628.40px;font-weight:bold;font-size:28px;font-family:'Liberation Sans',Arial,sans-serif;color:#fdf2ee;transform:scaleX(0.9300);">2.1%</div><div class="t" style="left:134.24px;top:681.90px;font-weight:bold;font-size:24.5px;font-family:'Liberation Sans',Arial,sans-serif;color:#141414;transform:scaleX(0.9100);">Brazil</div><div class="t" style="left:436.96px;top:680.25px;font-weight:bold;font-size:28px;font-family:'Liberation Sans',Arial,sans-serif;color:#fdf2ee;transform:scaleX(0.9300);">1.9%</div><div class="t" style="left:61.44px;top:733.70px;font-weight:bold;font-size:24.5px;font-family:'Liberation Sans',Arial,sans-serif;color:#141414;transform:scaleX(0.9100);">South Korea</div><div class="t" style="left:424.30px;top:732.10px;font-weight:bold;font-size:28px;font-family:'Liberation Sans',Arial,sans-serif;color:#fdf2ee;transform:scaleX(0.9300);">1.8%</div><div class="t" style="left:113.31px;top:785.50px;font-weight:bold;font-size:24.5px;font-family:'Liberation Sans',Arial,sans-serif;color:#141414;transform:scaleX(0.9100);">Canada</div><div class="t" style="left:386.31px;top:783.95px;font-weight:bold;font-size:28px;font-family:'Liberation Sans',Arial,sans-serif;color:#fdf2ee;transform:scaleX(0.9300);">1.5%</div><div class="t" style="left:118.77px;top:837.30px;font-weight:bold;font-size:24.5px;font-family:'Liberation Sans',Arial,sans-serif;color:#141414;transform:scaleX(0.9100);">Mexico</div><div class="t" style="left:386.31px;top:835.80px;font-weight:bold;font-size:28px;font-family:'Liberation Sans',Arial,sans-serif;color:#fdf2ee;transform:scaleX(0.9300);">1.5%</div><div class="t" style="left:22.31px;top:889.10px;font-weight:bold;font-size:24.5px;font-family:'Liberation Sans',Arial,sans-serif;color:#141414;transform:scaleX(0.9100);">European Union</div><div class="t" style="left:373.65px;top:887.65px;font-weight:bold;font-size:28px;font-family:'Liberation Sans',Arial,sans-serif;color:#fdf2ee;transform:scaleX(0.9300);">1.4%</div><div class="t" style="left:162.45px;top:940.90px;font-weight:bold;font-size:24.5px;font-family:'Liberation Sans',Arial,sans-serif;color:#141414;transform:scaleX(0.9100);">UK</div><div class="t" style="left:360.99px;top:939.50px;font-weight:bold;font-size:28px;font-family:'Liberation Sans',Arial,sans-serif;color:#fdf2ee;transform:scaleX(0.9300);">1.3%</div><div class="t" style="left:62.35px;top:992.70px;font-weight:bold;font-size:24.5px;font-family:'Liberation Sans',Arial,sans-serif;color:#141414;transform:scaleX(0.9100);">South Africa</div><div class="t" style="left:348.32px;top:991.35px;font-weight:bold;font-size:28px;font-family:'Liberation Sans',Arial,sans-serif;color:#fdf2ee;transform:scaleX(0.9300);">1.2%</div><div class="t" style="left:120.59px;top:1044.50px;font-weight:bold;font-size:24.5px;font-family:'Liberation Sans',Arial,sans-serif;color:#141414;transform:scaleX(0.9100);">Russia</div><div class="t" style="left:323.00px;top:1043.20px;font-weight:bold;font-size:28px;font-family:'Liberation Sans',Arial,sans-serif;color:#fdf2ee;transform:scaleX(0.9300);">1.0%</div><div class="t" style="left:121.50px;top:1096.30px;font-weight:bold;font-size:24.5px;font-family:'Liberation Sans',Arial,sans-serif;color:#141414;transform:scaleX(0.9100);">France</div><div class="t" style="left:310.34px;top:1095.05px;font-weight:bold;font-size:28px;font-family:'Liberation Sans',Arial,sans-serif;color:#fdf2ee;transform:scaleX(0.9300);">0.9%</div><div class="t" style="left:97.84px;top:1148.10px;font-weight:bold;font-size:24.5px;font-family:'Liberation Sans',Arial,sans-serif;color:#141414;transform:scaleX(0.9100);">Germany</div><div class="t" style="left:310.34px;top:1146.90px;font-weight:bold;font-size:28px;font-family:'Liberation Sans',Arial,sans-serif;color:#fdf2ee;transform:scaleX(0.9300);">0.9%</div><div class="t" style="left:149.71px;top:1199.90px;font-weight:bold;font-size:24.5px;font-family:'Liberation Sans',Arial,sans-serif;color:#141414;transform:scaleX(0.9100);">Italy</div><div class="t" style="left:297.68px;top:1198.75px;font-weight:bold;font-size:28px;font-family:'Liberation Sans',Arial,sans-serif;color:#fdf2ee;transform:scaleX(0.9300);">0.8%</div><div class="t" style="left:130.60px;top:1251.70px;font-weight:bold;font-size:24.5px;font-family:'Liberation Sans',Arial,sans-serif;color:#141414;transform:scaleX(0.9100);">Japan</div><div class="t" style="left:272.35px;top:1250.60px;font-weight:bold;font-size:28px;font-family:'Liberation Sans',Arial,sans-serif;color:#fdf2ee;transform:scaleX(0.9300);">0.6%</div><div class="t" style="left:864.98px;top:348.90px;font-size:23.5px;font-family:'Liberation Sans',Arial,sans-serif;color:#1a1a1a;transform:scaleX(1.0246);">India tops the G20 growth</div><div class="t" style="left:914.60px;top:383.00px;font-size:23.5px;font-family:'Liberation Sans',Arial,sans-serif;color:#1a1a1a;transform:scaleX(1.0530);">outlook for 2026</div><div class="t" style="left:873.80px;top:574.90px;font-size:23.5px;font-family:'Liberation Sans',Arial,sans-serif;color:#1a1a1a;transform:scaleX(0.9840);">Advanced economies lag</div><div class="t" style="left:868.60px;top:608.80px;font-size:23.5px;font-family:'Liberation Sans',Arial,sans-serif;color:#1a1a1a;">the global growth average</div><div class="t" style="left:42.02px;top:1313.50px;font-size:21.5px;font-family:'Liberation Sans',Arial,sans-serif;color:#1b1b1b;transform:scaleX(0.9836);"><b>Note:</b> Growth rates are IMF projections for real GDP in 2026.</div><div class="t" style="left:623.80px;top:1313.50px;font-size:21.5px;font-family:'Liberation Sans',Arial,sans-serif;color:#1b1b1b;transform:scaleX(0.9610);"><b><i>Source:</i></b> IMF, World Economic Outlook (Oct. 2025).</div>
</body></html>
